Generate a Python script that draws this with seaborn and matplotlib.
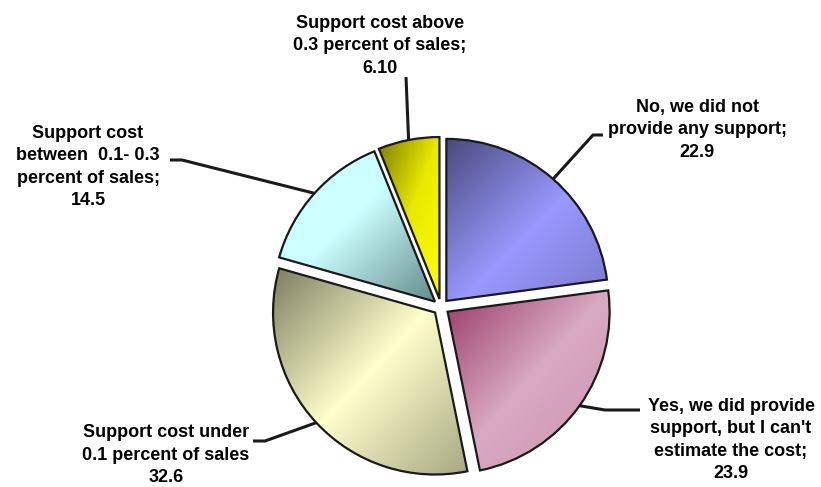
import numpy as np
import matplotlib.pyplot as plt
import matplotlib.colors as mcolors
import seaborn as sns

# data
labels = ["No, we did not\nprovide any support;",
          "Yes, we did provide\nsupport, but I can't\nestimate the cost;",
          "Support cost under\n0.1 percent of sales",
          "Support cost\nbetween  0.1- 0.3\npercent of sales;",
          "Support cost above\n0.3 percent of sales;"]
values = [22.9, 23.9, 32.6, 14.5, 6.10]
value_text = ["22.9", "23.9", "32.6", "14.5", "6.10"]

# styling: light / dark shade of each slice and gradient stops (t, lightness)
light_cols = ["#9999ff", "#d9a9c2", "#ffffcc", "#ccffff", "#ffff00"]
dark_cols = ["#4a4a7e", "#9a3a68", "#77775c", "#587e7e", "#6e6e00"]
stops = [[(0, 0.0), (0.55, 1.0), (1, 0.6)],
         [(0, 0.0), (0.5, 1.0), (1, 0.8)],
         [(0, 0.05), (0.5, 1.0), (1, 0.35)],
         [(0, 1.0), (0.45, 1.0), (1, 0.1)],
         [(0, 0.1), (0.5, 0.85), (1, 1.0)]]

# layout in pixels (y measured from top)
W, H = 821, 487
cx, cy, R = 441, 307, 162
gap = 0.05 * R
text_pos = [(697, 130), (731, 440), (166, 455), (88, 167), (380, 46)]
elbow = [(593, 135), (605, 410), (265, 441), (182, 160), (406, 77)]
line_end = [(603, 135), (640, 410), (253, 441), (170, 160), (406, 77)]

sns.set_theme(style="white")
plt.rcParams['font.family'] = ['Liberation Sans', 'DejaVu Sans']

fig = plt.figure(figsize=(W / 100, H / 100), dpi=100)
ax = fig.add_axes([0, 0, 1, 1])

wedges, _ = ax.pie(values, startangle=90, counterclock=False,
                   radius=R, center=(cx, H - cy), explode=[gap] * len(values),
                   colors=light_cols, frame=True,
                   wedgeprops=dict(edgecolor="#1a1a1a", linewidth=1.6))

for i, w in enumerate(wedges):
    # gradient image clipped to the wedge
    x0, y0 = w.center[0] - R, w.center[1] - R
    n = 200
    xs = np.linspace(0, 1, n)
    X, Y = np.meshgrid(xs, xs)
    sp = np.array(stops[i])
    # top-left -> bottom-right diagonal over the wedge's own bbox
    bb = w.get_path().get_extents()
    bx0, by0, bx1, by1 = bb.x0, bb.y0, bb.x1, bb.y1
    gx = x0 + X * 2 * R
    gy = y0 + Y * 2 * R
    u = np.clip((gx - bx0) / max(bx1 - bx0, 1), 0, 1)
    v = np.clip((by1 - gy) / max(by1 - by0, 1), 0, 1)
    tt = (u + v) / 2
    k = np.interp(tt, sp[:, 0], sp[:, 1])
    lc = np.array(mcolors.to_rgb(light_cols[i]))
    dc = np.array(mcolors.to_rgb(dark_cols[i]))
    img = dc + (lc - dc) * k[..., None]
    im = ax.imshow(img, extent=(x0, x0 + 2 * R, y0, y0 + 2 * R),
                   origin="lower", zorder=2, interpolation="bilinear")
    im.set_clip_path(w)
    w.set_facecolor("none")
    w.set_zorder(3)

    # leader line from the wedge bisector
    ang = np.deg2rad((w.theta1 + w.theta2) / 2)
    ax_pt = (w.center[0] + R * np.cos(ang), w.center[1] + R * np.sin(ang))
    xs_l = [ax_pt[0], elbow[i][0], line_end[i][0]]
    ys_l = [ax_pt[1], H - elbow[i][1], H - line_end[i][1]]
    ax.plot(xs_l, ys_l, color="#1a1a1a", lw=2.2, zorder=4, solid_capstyle="butt")

    ax.text(text_pos[i][0], H - text_pos[i][1], labels[i] + "\n" + value_text[i],
            ha="center", va="center", fontsize=13, fontweight="bold",
            color="black", linespacing=1.4)

ax.set_xlim(0, W)
ax.set_ylim(0, H)
ax.set_aspect("equal")
ax.axis("off")
fig.savefig("out.png", dpi=100, facecolor="white")
